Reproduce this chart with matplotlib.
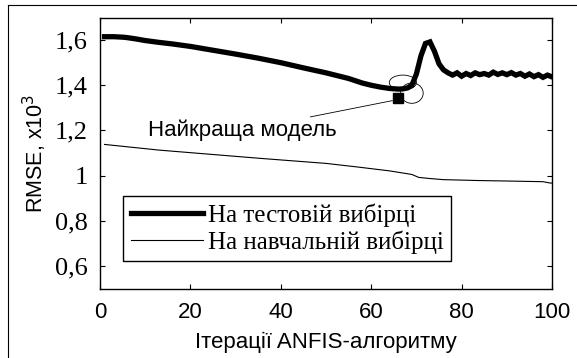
import numpy as np
import matplotlib.pyplot as plt
from matplotlib.patches import Ellipse
from matplotlib.lines import Line2D

# test-set error (thick line)
test_iter = [1, 2, 3, 4, 5, 6, 7, 8, 10, 13, 16, 20, 25, 30, 35, 40, 45, 50, 55, 58, 60, 62,
             64, 66, 67, 68, 69, 70, 71, 72, 73, 74, 75, 76, 77, 78, 79, 80, 81, 82, 83, 84,
             85, 86, 87, 88, 89, 90, 91, 92, 93, 94, 95, 96, 97, 98, 99, 100]
test_rmse = [1.615, 1.615, 1.615, 1.614, 1.613, 1.611, 1.608, 1.605, 1.598, 1.59, 1.583, 1.572,
             1.555, 1.538, 1.52, 1.5, 1.477, 1.455, 1.43, 1.41, 1.4, 1.392,
             1.386, 1.383, 1.384, 1.388, 1.4, 1.45, 1.53, 1.585, 1.592, 1.55, 1.495, 1.468,
             1.455, 1.445, 1.455, 1.44, 1.452, 1.443, 1.455, 1.447,
             1.452, 1.445, 1.458, 1.448, 1.455, 1.447, 1.456, 1.445, 1.452, 1.44, 1.45, 1.438,
             1.447, 1.435, 1.445, 1.437]

# training-set error (thin line)
train_iter = [1, 13, 35, 50, 57, 64, 69, 70.5, 73, 76, 80, 84, 90, 98, 99.6, 100]
train_rmse = [1.138, 1.113, 1.077, 1.054, 1.038, 1.021, 1.005, 0.992, 0.987, 0.982,
              0.98, 0.978, 0.976, 0.973, 0.967, 0.967]

best_iter = 65.9
best_rmse = 1.345

yticks = [0.6, 0.8, 1.0, 1.2, 1.4, 1.6]
ytick_labels = ['0,6', '0,8', '1', '1,2', '1,4', '1,6']
xticks = [0, 20, 40, 60, 80, 100]

serif = 'Liberation Serif'
sans = 'Liberation Sans'

fig = plt.figure(figsize=(5.77, 3.58), dpi=100)
ax = fig.add_axes([0.1733, 0.1941, 0.7834, 0.757])

ax.plot(test_iter, test_rmse, color='black', lw=3.8, solid_joinstyle='miter',
        label='На тестовій вибірці')
ax.plot(train_iter, train_rmse, color='black', lw=0.8, label='На навчальній вибірці')
ax.plot([best_iter], [best_rmse], marker='s', color='black', ms=7)

# hand-drawn looking ellipses round the best model
ax.add_patch(Ellipse((67.0, 1.412), 6.0, 0.066, fill=False, lw=0.6, color='black'))
ax.add_patch(Ellipse((69.0, 1.365), 5.0, 0.09, fill=False, lw=0.6, color='black'))

ax.annotate('Найкраща модель', xy=(64.7, 1.332), xytext=(52.3, 1.2),
            ha='right', va='center', fontsize=16, family=sans,
            arrowprops=dict(arrowstyle='-', lw=0.6, color='black', shrinkA=0, shrinkB=0))

ax.set_xlim(0, 100)
ax.set_ylim(0.5, 1.7)
ax.set_xticks(xticks)
ax.set_xticklabels([str(v) for v in xticks], family=sans, fontsize=16)
ax.set_yticks(yticks)
ax.set_yticklabels(ytick_labels, family=serif, fontsize=19)
ax.tick_params(direction='in', top=True, right=True, length=3.5, width=0.8)
ax.tick_params(axis='y', pad=9)
ax.tick_params(axis='x', pad=10)
for s in ax.spines.values():
    s.set_linewidth(1.0)

ax.set_xlabel('Ітерації ANFIS-алгоритму', family=sans, fontsize=16, labelpad=6)
ax.set_ylabel('RMSE, x10$^3$', family=sans, fontsize=15.5, labelpad=4)

leg = ax.legend(loc='upper left', bbox_to_anchor=(0.051, 0.341), borderaxespad=0,
                prop={'family': serif, 'size': 18}, handlelength=2.9, handletextpad=0.2,
                borderpad=0.3, labelspacing=0.12, fancybox=False, framealpha=1)
leg.get_frame().set_edgecolor('black')
leg.get_frame().set_linewidth(1.0)

# outer frame of the original picture (left and top edges only)
fig.add_artist(Line2D([8 / 577, 8 / 577], [0, 1 - 5 / 358], color='black', lw=0.8,
                      transform=fig.transFigure))
fig.add_artist(Line2D([8 / 577, 1], [1 - 5 / 358, 1 - 5 / 358], color='black', lw=0.8,
                      transform=fig.transFigure))

fig.savefig('out.png', dpi=100)
